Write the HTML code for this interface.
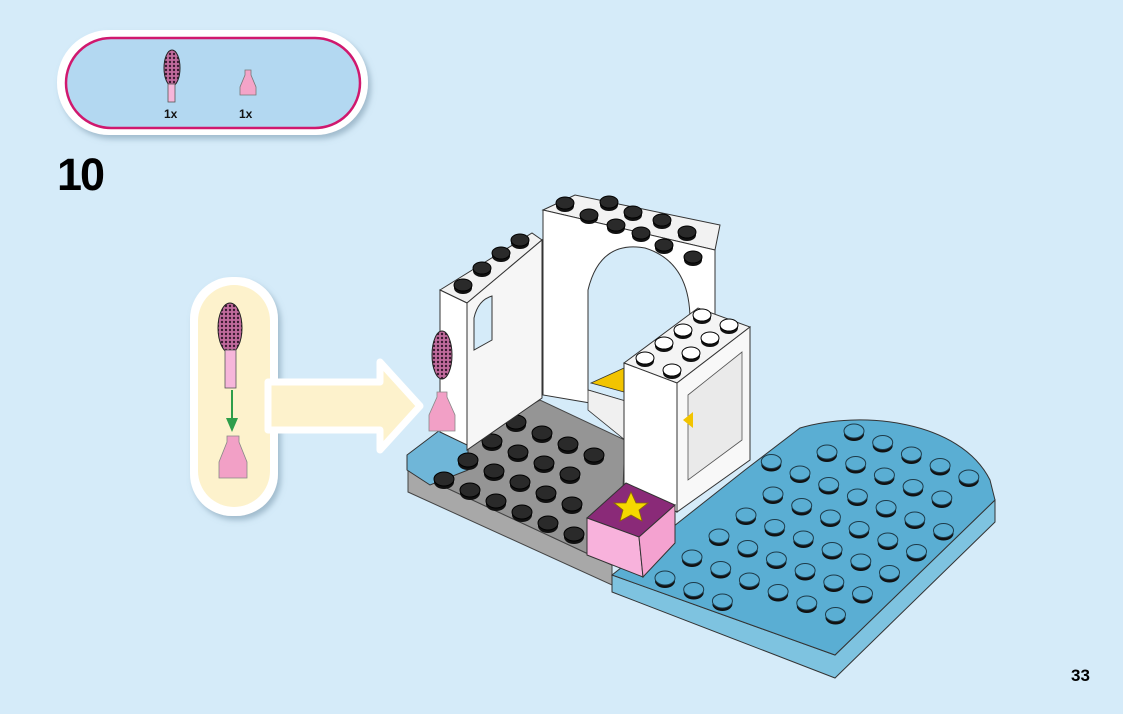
<!DOCTYPE html>
<html><head><meta charset="utf-8"><style>
html,body{margin:0;padding:0;background:#d5ebf9;}
body{width:1123px;height:709px;overflow:hidden;position:relative;font-family:"Liberation Sans",sans-serif;}
</style></head><body>
<svg id="s" width="1123" height="709" viewBox="0 0 1123 709" xmlns="http://www.w3.org/2000/svg">
<defs>
<filter id="sh" x="-10%" y="-10%" width="130%" height="140%"><feDropShadow dx="3" dy="4" stdDeviation="3" flood-color="#6a8aa0" flood-opacity="0.5"/></filter>
<pattern id="dots" width="4" height="4" patternUnits="userSpaceOnUse"><rect width="4" height="4" fill="#c06a9c"/><circle cx="2" cy="2" r="1.2" fill="#3a1a30"/></pattern>
</defs>
<rect width="1123" height="709" fill="#d5ebf9"/>
<!-- parts callout -->
<rect x="57" y="30" width="311" height="105" rx="52" fill="#fff" filter="url(#sh)"/>
<rect x="66" y="38" width="294" height="90" rx="45" fill="#b3d8f1" stroke="#d0186e" stroke-width="2.5"/>
<ellipse cx="172" cy="68" rx="8" ry="18" fill="url(#dots)" stroke="#222" stroke-width="1"/>
<rect x="168" y="84" width="7" height="18" fill="#f6b6da" stroke="#555" stroke-width="0.8"/>
<path d="M245,70 h6 v5 l5,12 v8 h-16 v-8 l5,-12z" fill="#f4a4c8" stroke="#777" stroke-width="0.8"/>
<text x="164" y="118" font-size="12" font-weight="bold" fill="#111">1x</text>
<text x="239" y="118" font-size="12" font-weight="bold" fill="#111">1x</text>
<text x="57" y="190" font-size="45" font-weight="bold" fill="#000" letter-spacing="-2">10</text>
<!-- sub callout -->
<rect x="190" y="277" width="88" height="239" rx="42" fill="#fff" filter="url(#sh)"/>
<rect x="198" y="285" width="72" height="222" rx="36" fill="#fdf2cc"/>
<path d="M268,382 L380,382 L380,362 L420,406 L380,450 L380,430 L268,430 Z" fill="#fdf2cc" stroke="#fff" stroke-width="7" stroke-linejoin="round"/>
<rect x="272" y="386" width="12" height="40" fill="#fdf2cc"/>
<ellipse cx="230" cy="328" rx="12" ry="25" fill="url(#dots)" stroke="#222" stroke-width="1"/>
<rect x="225" y="350" width="11" height="38" fill="#f6b6da" stroke="#555" stroke-width="0.8"/>
<line x1="232" y1="390" x2="232" y2="428" stroke="#2e9e4a" stroke-width="2"/>
<path d="M226,418 L238,418 L232,432Z" fill="#2e9e4a"/>
<path d="M227,436 h12 v6 l8,20 v16 h-28 v-16 l8,-20z" fill="#f2a0c6" stroke="#888" stroke-width="0.8"/>
<!-- gray plate -->
<polygon points="408,470 408,492 612,585 612,565" fill="#a8a8a8" stroke="#444" stroke-width="1"/>
<polygon points="408,470 465,440 540,400 625,440 620,560 612,565" fill="#959595" stroke="#444" stroke-width="1"/>
<!-- blue slope -->
<polygon points="407,455 440,430 468,440 468,470 430,485 407,470" fill="#6fb6d8" stroke="#333" stroke-width="1"/>
<!-- blue plate -->
<polygon points="612,575 612,592 835,678 995,522 995,500 835,655" fill="#7ec3e0" stroke="#333" stroke-width="1"/>
<path d="M612,575 L745,470 L800,428 C860,410 960,420 990,480 L995,500 L835,655 Z" fill="#5aaed3" stroke="#333" stroke-width="1"/>
<g id="studs"></g>
<!-- left pillar -->
<polygon points="440,290 532,233 542,240 467,303" fill="#f2f2f2" stroke="#333" stroke-width="1"/>
<polygon points="440,290 467,303 467,445 440,432" fill="#fff" stroke="#333" stroke-width="1"/>
<polygon points="467,303 542,240 542,398 467,450" fill="#f6f6f6" stroke="#333" stroke-width="1"/>
<path d="M474,350 L474,318 Q478,300 492,296 L492,340 Z" fill="#d5ebf9" stroke="#333" stroke-width="1"/>
<!-- arch -->
<polygon points="543,210 575,195 720,225 715,250" fill="#f2f2f2" stroke="#333" stroke-width="1"/>
<polygon points="543,210 715,250 715,330 690,320 690,420 543,395" fill="#fff" stroke="#333" stroke-width="1"/>
<path d="M588,390 L588,290 Q600,240 645,248 Q690,262 690,320 L690,420 Z" fill="#d5ebf9" stroke="#333" stroke-width="1"/>
<polygon points="588,390 690,420 625,440 588,410" fill="#f0f0f0" stroke="#333" stroke-width="0.8"/>
<polygon points="591,383 624,368 624,392" fill="#f2c400" stroke="#333" stroke-width="0.8"/>
<!-- front pillar -->
<polygon points="624,363 698,308 750,327 677,383" fill="#f4f4f4" stroke="#333" stroke-width="1"/>
<polygon points="624,363 677,383 677,512 624,485" fill="#fff" stroke="#333" stroke-width="1"/>
<polygon points="677,383 750,327 750,460 677,512" fill="#f8f8f8" stroke="#333" stroke-width="1"/>
<polygon points="688,395 742,352 742,440 688,480" fill="#eaeaea" stroke="#555" stroke-width="0.8"/>
<polygon points="683,420 693,412 693,428" fill="#f2c400"/>
<g id="top"></g>
<!-- box -->
<polygon points="587,518 626,483 675,505 639,537" fill="#8a2a78" stroke="#333" stroke-width="1"/>
<polygon points="587,518 639,537 643,577 587,555" fill="#f8b2dc" stroke="#333" stroke-width="1"/>
<polygon points="639,537 675,505 675,543 643,577" fill="#f4a2d0" stroke="#333" stroke-width="1"/>
<polygon points="631,492 636,503 648,503 639,510 642,521 631,515 620,521 623,510 614,503 626,503" fill="#f5d800" stroke="#8a6a00" stroke-width="0.8"/>
<!-- brush on model -->
<ellipse cx="442" cy="355" rx="10" ry="24" fill="url(#dots)" stroke="#222" stroke-width="1"/>
<path d="M437,392 h10 v5 l8,18 v16 h-26 v-16 l8,-18z" fill="#f2a0c6" stroke="#888" stroke-width="0.8"/>
<text x="1071" y="681" font-size="17" font-weight="bold" fill="#000">33</text>
</svg>
<script>
(function(){
var g=document.getElementById("studs"),out="";
function inP(x,y,p){var c=false;for(var i=0,j=p.length-1;i<p.length;j=i++){var a=p[i],b=p[j];if((a[1]>y)!=(b[1]>y)&&x<(b[0]-a[0])*(y-a[1])/(b[1]-a[1])+a[0])c=!c;}return c;}
function stud(x,y,top,col){out+='<ellipse cx="'+x+'" cy="'+(y+3)+'" rx="10" ry="7" fill="#111"/>'+'<ellipse cx="'+x+'" cy="'+y+'" rx="10" ry="7" fill="'+top+'" stroke="'+col+'" stroke-width="1"/>';}
var blue=[[635,572],[745,478],[805,440],[870,428],[955,440],[985,490],[832,640]];
var box=[[580,480],[760,320],[760,470],[680,540],[650,590],[580,570]];
for(var i=-2;i<14;i++)for(var j=-2;j<14;j++){var x=665+i*28.7+j*27,y=578+i*11.5-j*21;if(inP(x,y,blue)&&!inP(x,y,box))stud(x,y,"#5aaed3","#1d3b4a");}
var gray=[[420,472],[470,445],[545,405],[618,445],[615,555],[600,562]];
var pil=[[430,300],[545,240],[545,400],[470,455],[430,440]];
for(i=-3;i<12;i++)for(j=-3;j<12;j++){x=470+i*26+j*24;y=490+i*11-j*19;if(inP(x,y,gray)&&!inP(x,y,box)&&!inP(x,y,pil))stud(x,y,"#2a2a2a","#000");}
g.innerHTML=out;
var o="";
function s2(x,y,top){o+='<ellipse cx="'+x+'" cy="'+(y+3)+'" rx="9" ry="6" fill="#111"/><ellipse cx="'+x+'" cy="'+y+'" rx="9" ry="6" fill="'+top+'" stroke="#000" stroke-width="1"/>';}
[[520,240],[501,253],[482,268],[463,285]].forEach(function(p){s2(p[0],p[1],"#2a2a2a");});
[[565,203],[609,202],[589,215],[633,212],[662,220],[616,225],[641,233],[687,232],[664,245],[693,257]].forEach(function(p){s2(p[0],p[1],"#2a2a2a");});
[[702,315],[729,325],[683,330],[710,338],[664,343],[691,353],[645,358],[672,370]].forEach(function(p){s2(p[0],p[1],"#fff");});
document.getElementById("top").innerHTML=o;
})();
</script>
</body></html>
